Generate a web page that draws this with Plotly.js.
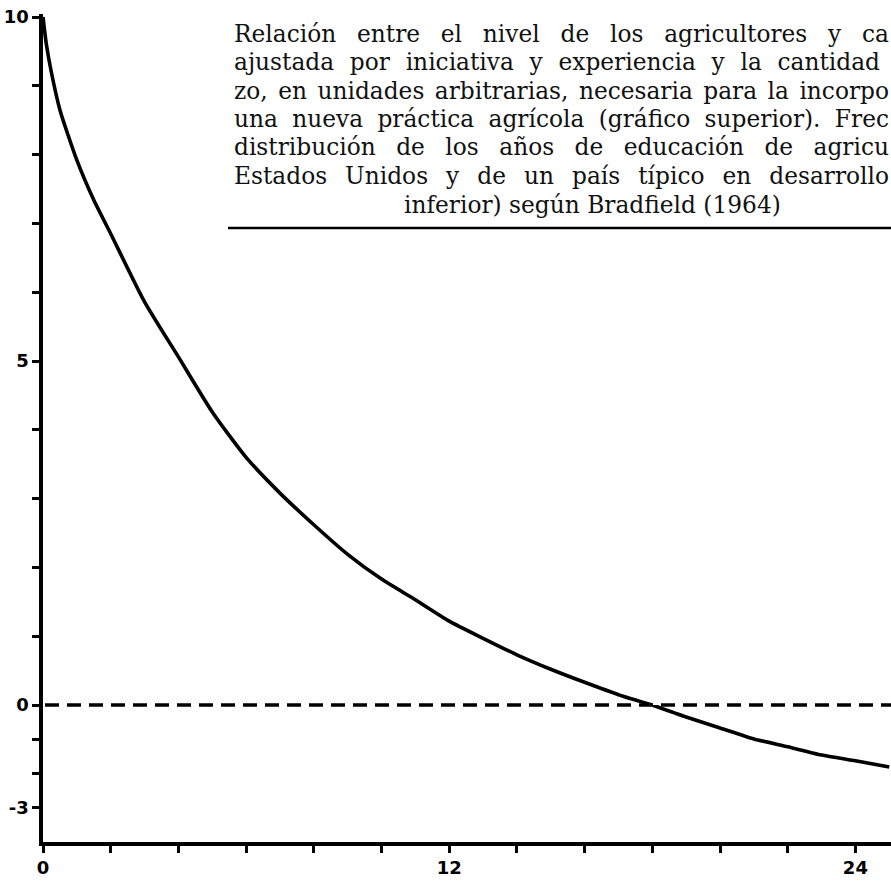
<!DOCTYPE html>
<html>
<head>
<meta charset="utf-8">
<script src="https://cdn.plot.ly/plotly-3.0.1.min.js"></script>
<style>html,body{margin:0;padding:0;background:#fff;}#chart{width:891px;height:881px;}</style>
</head>
<body>
<div id="chart"></div>
<script>
// Data
const xVals = [0, 0.1, 0.25, 0.5, 1, 1.5, 2, 3, 4, 5, 6, 7, 8, 9, 10, 11, 12, 13, 14, 15, 16, 17, 18, 19, 20, 21, 22, 23, 24, 25];
const yVals = [10.0, 9.6, 9.19, 8.65, 7.92, 7.34, 6.85, 5.86, 5.06, 4.26, 3.60, 3.08, 2.62, 2.19, 1.83, 1.53, 1.22, 0.97, 0.73, 0.52, 0.33, 0.15, 0.0, -0.35, -0.67, -0.99, -1.22, -1.46, -1.63, -1.81];

const xTickVals = [0, 2, 4, 6, 8, 10, 12, 14, 16, 18, 20, 22, 24];
const xTickText = ['0', '', '', '', '', '', '12', '', '', '', '', '', '24'];
const yTopTickVals = [0, 1, 2, 3, 4, 5, 6, 7, 8, 9, 10];
const yTopTickText = ['0', '', '', '', '', '5', '', '', '', '', '10'];
const yBotTickVals = [-1, -2, -3];
const yBotTickText = ['', '', '-3'];

// caption text as visible in the reference (the page edge cuts the lines)
const captionLines = [
  'Relación entre el nivel de los agricultores y ca',
  'ajustada por iniciativa y experiencia y la cantidad',
  'zo, en unidades arbitrarias, necesaria para la incorpo',
  'una nueva práctica agrícola (gráfico superior). Frec',
  'distribución de los años de educación de agricu',
  'Estados Unidos y de un país típico en desarrollo',
  'inferior) según Bradfield (1964)'
];
const captionRight = [887, 878, 887, 887, 887, 887, 0];

// split the curve between the two halves of the broken y scale
const topX = [], topY = [], botX = [], botY = [];
xVals.forEach((x, i) => {
  if (yVals[i] >= 0) { topX.push(x); topY.push(yVals[i]); }
  if (yVals[i] <= 0) { botX.push(x); botY.push(yVals[i]); }
});

const W = 891, H = 881;
const px = v => v / W, py = v => 1 - v / H;

const capFamily = 'DejaVu Serif, Liberation Serif, serif';
const capSize = 23.3;
const ctx = document.createElement('canvas').getContext('2d');
ctx.font = capSize + 'px "DejaVu Serif"';
function spacingFor(text, right) {
  if (!right) return 0;
  const spaces = (text.match(/ /g) || []).length;
  const natural = ctx.measureText(text).width;
  return Math.max(0, (right - 232 - natural) / spaces);
}

const lineStyle = {color: 'black', width: 3.6, shape: 'spline', smoothing: 0.6};
const traces = [
  {x: topX, y: topY, xaxis: 'x', yaxis: 'y', mode: 'lines', line: lineStyle, hoverinfo: 'skip'},
  {x: botX, y: botY, xaxis: 'x', yaxis: 'y2', mode: 'lines', line: lineStyle, hoverinfo: 'skip'}
];

const tickFont = {family: 'DejaVu Sans, Liberation Sans, sans-serif', size: 18, color: 'black', weight: 'bold'};
const axisCommon = {
  showline: true, linecolor: 'black', linewidth: 3.6,
  ticks: 'outside', ticklen: 7, tickwidth: 3, tickcolor: 'black',
  showgrid: false, zeroline: false, tickfont: tickFont, fixedrange: true
};

const annotations = captionLines.map((t, i) => {
  const last = i === captionLines.length - 1;
  const sp = spacingFor(t, captionRight[i]);
  return {
    xref: 'paper', yref: 'paper',
    x: last ? px(592) : px(232), xanchor: last ? 'center' : 'left',
    y: py(33 + i * 28.5), yanchor: 'middle',
    text: '<span style="word-spacing:' + sp.toFixed(2) + 'px">' + t + '</span>',
    showarrow: false,
    font: {family: capFamily, size: capSize, color: '#111'}
  };
});

// y = 0 sits on the seam between the two y-axis domains
const zeroY = py(705);

const layout = {
  width: W, height: H,
  margin: {l: 0, r: 0, t: 0, b: 0},
  paper_bgcolor: 'white', plot_bgcolor: 'white',
  showlegend: false,
  xaxis: Object.assign({}, axisCommon, {
    domain: [px(43), 1], range: [0, 848 / 33.85], anchor: 'y2',
    tickmode: 'array', tickvals: xTickVals, ticktext: xTickText
  }),
  yaxis: Object.assign({}, axisCommon, {
    domain: [zeroY, py(13.6)], range: [0, 10.05], anchor: 'x',
    tickmode: 'array', tickvals: yTopTickVals, ticktext: yTopTickText
  }),
  yaxis2: Object.assign({}, axisCommon, {
    domain: [py(842), zeroY], range: [-4, 0], anchor: 'x',
    tickmode: 'array', tickvals: yBotTickVals, ticktext: yBotTickText
  }),
  shapes: [
    {type: 'line', xref: 'paper', yref: 'paper', x0: px(45), x1: 1, y0: zeroY, y1: zeroY,
     line: {color: 'black', width: 3.6, dash: '14px,8px'}},
    {type: 'line', xref: 'paper', yref: 'paper', x0: px(228), x1: 1, y0: py(228), y1: py(228),
     line: {color: 'black', width: 2.5}}
  ],
  annotations: annotations
};

Plotly.newPlot('chart', traces, layout, {displayModeBar: false, staticPlot: true});
</script>
</body>
</html>
